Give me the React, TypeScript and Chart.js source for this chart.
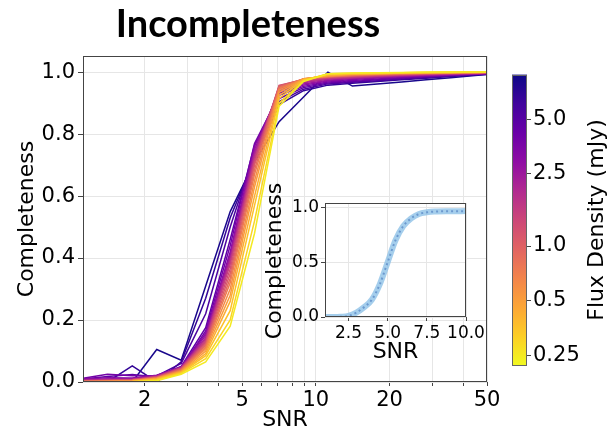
import React, { useEffect, useRef } from 'react';
import { Chart, registerables } from 'chart.js';

Chart.register(...registerables);

// ---------- data ----------
const snrBins = [1.12, 1.41, 1.78, 2.24, 2.82, 3.55, 4.47, 5.62, 7.08, 8.91, 11.2, 14.1, 17.8, 22.4, 28.2, 35.5, 44.7, 56.2];

const fluxDensities = [0.25, 0.30, 0.36, 0.43, 0.52, 0.62, 0.75, 0.90, 1.08, 1.30, 1.56, 1.87, 2.25, 2.70, 3.24, 3.90, 4.67, 5.60, 6.70, 8.10];

const comp025 = [0.000, 0.000, 0.000, 0.004, 0.025, 0.065, 0.18, 0.48, 0.89, 0.970, 0.995, 0.997, 0.998, 0.999, 1.0, 1.0, 1.0, 1.0];
const comp030 = [0.000, 0.000, 0.001, 0.006, 0.028, 0.075, 0.20, 0.52, 0.90, 0.972, 0.995, 0.996, 0.997, 0.998, 0.999, 1.0, 1.0, 1.0];
const comp036 = [0.000, 0.000, 0.002, 0.008, 0.030, 0.085, 0.23, 0.57, 0.915, 0.975, 0.993, 0.995, 0.996, 0.998, 0.999, 0.999, 1.0, 1.0];
const comp043 = [0.000, 0.001, 0.002, 0.010, 0.032, 0.092, 0.26, 0.60, 0.925, 0.977, 0.990, 0.994, 0.995, 0.997, 0.998, 0.999, 1.0, 1.0];
const comp052 = [0.001, 0.002, 0.003, 0.011, 0.034, 0.100, 0.28, 0.63, 0.935, 0.978, 0.988, 0.993, 0.995, 0.997, 0.998, 0.999, 0.999, 1.0];
const comp062 = [0.001, 0.002, 0.004, 0.012, 0.036, 0.107, 0.30, 0.65, 0.942, 0.979, 0.987, 0.992, 0.994, 0.996, 0.997, 0.998, 0.999, 1.0];
const comp075 = [0.002, 0.003, 0.005, 0.013, 0.038, 0.113, 0.32, 0.67, 0.948, 0.979, 0.986, 0.990, 0.993, 0.995, 0.996, 0.998, 0.999, 1.0];
const comp090 = [0.002, 0.004, 0.005, 0.014, 0.040, 0.118, 0.335, 0.685, 0.952, 0.978, 0.985, 0.989, 0.992, 0.994, 0.996, 0.997, 0.998, 1.0];
const comp108 = [0.003, 0.004, 0.006, 0.015, 0.042, 0.123, 0.35, 0.70, 0.956, 0.977, 0.984, 0.988, 0.991, 0.993, 0.995, 0.997, 0.998, 0.999];
const comp130 = [0.003, 0.005, 0.007, 0.016, 0.043, 0.128, 0.365, 0.71, 0.957, 0.975, 0.983, 0.987, 0.990, 0.992, 0.994, 0.996, 0.998, 0.999];
const comp156 = [0.004, 0.006, 0.007, 0.017, 0.045, 0.133, 0.38, 0.72, 0.953, 0.972, 0.981, 0.985, 0.988, 0.991, 0.993, 0.995, 0.997, 0.999];
const comp187 = [0.005, 0.007, 0.008, 0.018, 0.046, 0.138, 0.39, 0.73, 0.948, 0.969, 0.979, 0.983, 0.987, 0.990, 0.992, 0.994, 0.996, 0.998];
const comp225 = [0.006, 0.008, 0.009, 0.019, 0.047, 0.143, 0.40, 0.74, 0.943, 0.966, 0.977, 0.981, 0.985, 0.988, 0.991, 0.993, 0.995, 0.998];
const comp270 = [0.008, 0.010, 0.011, 0.021, 0.048, 0.150, 0.41, 0.75, 0.938, 0.962, 0.974, 0.979, 0.983, 0.987, 0.990, 0.992, 0.995, 0.998];
const comp324 = [0.010, 0.014, 0.013, 0.022, 0.049, 0.157, 0.42, 0.76, 0.932, 0.958, 0.971, 0.976, 0.981, 0.985, 0.988, 0.991, 0.994, 0.997];
const comp390 = [0.012, 0.025, 0.020, 0.020, 0.045, 0.165, 0.44, 0.77, 0.925, 0.954, 0.968, 0.973, 0.978, 0.983, 0.987, 0.990, 0.993, 0.997];
const comp467 = [0.010, 0.018, 0.024, 0.016, 0.050, 0.175, 0.46, 0.765, 0.915, 0.950, 0.965, 0.970, 0.975, 0.980, 0.985, 0.989, 0.993, 0.996];
const comp560 = [0.000, 0.005, 0.010, 0.020, 0.060, 0.22, 0.50, 0.74, 0.905, 0.945, 0.962, 0.967, 0.972, 0.978, 0.983, 0.988, 0.992, 0.996];
const comp670 = [0.000, 0.000, 0.052, 0.000, 0.065, 0.27, 0.53, 0.72, 0.895, 0.940, 0.958, 0.964, 0.970, 0.975, 0.980, 0.986, 0.991, 0.995];
const comp810 = [0.000, 0.000, 0.000, 0.105, 0.070, 0.31, 0.55, 0.71, 0.84, 0.92, 1.0, 0.955, 0.962, 0.968, 0.975, 0.982, 0.989, 0.995];

const completenessSeries = [
  comp025, comp030, comp036, comp043, comp052, comp062, comp075, comp090, comp108, comp130,
  comp156, comp187, comp225, comp270, comp324, comp390, comp467, comp560, comp670, comp810,
];

const xGridTicks = [2, 3, 4, 5, 6, 7, 8, 9, 10, 20, 30, 40, 50];
const xLabeledTicks = [2, 5, 10, 20, 50];
const yTicks = [0, 0.2, 0.4, 0.6, 0.8, 1.0];

const insetSnr = [1, 1.5, 2, 2.5, 3, 3.5, 4, 4.5, 5, 5.5, 6, 6.5, 7, 7.5, 8, 9, 10];
const insetCompleteness = [0, 0, 0.002, 0.01, 0.04, 0.09, 0.16, 0.3, 0.5, 0.7, 0.83, 0.9, 0.94, 0.955, 0.962, 0.965, 0.966];
const insetXTicks = [2.5, 5, 7.5, 10];
const insetYTicks = [0, 0.5, 1];

const colorbarTicks = [0.25, 0.5, 1, 2.5, 5];
const colorbarTickLabels = ['0.25', '0.5', '1.0', '2.5', '5.0'];
const fluxMin = 0.22;
const fluxMax = 8.8;

// ---------- styling helpers ----------
const FONT = "'DejaVu Sans', sans-serif";
const PLASMA = ['#0d0887', '#41049d', '#6a00a8', '#8f0da4', '#b12a90', '#cc4778', '#e16462', '#f2844b', '#fca636', '#fcce25', '#f0f921'];
const GRID = '#e6e6e6';
const SPINE = '#444444';

function hexRgb(h: string) {
  return [parseInt(h.slice(1, 3), 16), parseInt(h.slice(3, 5), 16), parseInt(h.slice(5, 7), 16)];
}
function plasma(t: number) {
  const c = Math.max(0, Math.min(1, t)) * 10;
  const i = Math.min(9, Math.floor(c));
  const f = c - i;
  const a = hexRgb(PLASMA[i]);
  const b = hexRgb(PLASMA[i + 1]);
  const m = a.map((v, k) => Math.round(v + (b[k] - v) * f));
  return `rgb(${m[0]},${m[1]},${m[2]})`;
}
function fluxColor(f: number) {
  const n = (Math.log(f) - Math.log(fluxMin)) / (Math.log(fluxMax) - Math.log(fluxMin));
  return plasma(1 - n);
}

const boxPlugin = {
  id: 'boxPlugin',
  afterDatasetsDraw(chart: any) {
    const { ctx, chartArea: a } = chart;
    ctx.save();
    ctx.strokeStyle = SPINE;
    ctx.lineWidth = 1;
    ctx.strokeRect(Math.round(a.left) + 0.5, Math.round(a.top) + 0.5, Math.round(a.width) - 1, Math.round(a.height) - 1);
    ctx.restore();
  },
};

const whiteAreaPlugin = {
  id: 'whiteArea',
  beforeDraw(chart: any) {
    const { ctx, chartArea: a } = chart;
    ctx.save();
    ctx.fillStyle = '#ffffff';
    ctx.fillRect(a.left, a.top, a.width, a.height);
    ctx.restore();
  },
};

const insetLabelPlugin = {
  id: 'insetYLabel',
  afterDraw(chart: any) {
    const { ctx, chartArea: a } = chart;
    ctx.save();
    ctx.fillStyle = '#000';
    ctx.font = `22px ${FONT}`;
    ctx.textAlign = 'center';
    ctx.textBaseline = 'middle';
    ctx.translate(20, (a.top + a.bottom) / 2 + 1);
    ctx.rotate(-Math.PI / 2);
    ctx.fillText('Completeness', 0, 0);
    ctx.restore();
  },
};

const titlePlugin = {
  id: 'mainTitle',
  afterDraw(chart: any) {
    const { ctx } = chart;
    ctx.save();
    ctx.fillStyle = '#000';
    ctx.font = "bold 38px Lato, 'DejaVu Sans', sans-serif";
    ctx.textAlign = 'center';
    ctx.textBaseline = 'alphabetic';
    ctx.fillText('Incompleteness', 248, 37);
    ctx.restore();
  },
};

const colorbarPlugin = {
  id: 'colorbarFill',
  beforeDatasetsDraw(chart: any) {
    const { ctx, chartArea: a } = chart;
    ctx.save();
    const g = ctx.createLinearGradient(0, a.bottom, 0, a.top);
    for (let k = 0; k <= 10; k++) g.addColorStop(k / 10, PLASMA[10 - k]);
    ctx.fillStyle = g;
    ctx.fillRect(a.left, a.top, a.width, a.height);
    ctx.strokeStyle = '#666';
    ctx.lineWidth = 1;
    ctx.strokeRect(Math.round(a.left) + 0.5, Math.round(a.top) + 0.5, Math.round(a.width) - 1, Math.round(a.height) - 1);
    ctx.restore();
  },
  afterDraw(chart: any) {
    const { ctx, chartArea: a } = chart;
    ctx.save();
    ctx.fillStyle = '#000';
    ctx.font = `22px ${FONT}`;
    ctx.textAlign = 'center';
    ctx.textBaseline = 'middle';
    ctx.translate(97, (a.top + a.bottom) / 2);
    ctx.rotate(-Math.PI / 2);
    ctx.fillText('Flux Density (mJy)', 0, 0);
    ctx.restore();
  },
};

export default function App() {
  const mainRef = useRef<HTMLCanvasElement>(null);
  const insetRef = useRef<HTMLCanvasElement>(null);
  const cbRef = useRef<HTMLCanvasElement>(null);

  useEffect(() => {
    const charts: Chart[] = [];

    // main chart
    charts.push(
      new Chart(mainRef.current as HTMLCanvasElement, {
        type: 'line',
        data: {
          datasets: completenessSeries.map((vals, i) => ({
            label: `${fluxDensities[i]} mJy`,
            data: snrBins.map((x, j) => ({ x, y: vals[j] })),
            borderColor: fluxColor(fluxDensities[i]),
            borderWidth: 1.5,
            pointRadius: 0,
            fill: false,
            tension: 0,
          })),
        },
        options: {
          animation: false,
          responsive: false,
          events: [],
          layout: { padding: { left: 0, right: 123, top: 56, bottom: 0 } },
          plugins: { legend: { display: false }, tooltip: { enabled: false }, title: { display: false } },
          scales: {
            x: {
              type: 'logarithmic',
              min: 1.12,
              max: 50,
              afterBuildTicks: (s: any) => {
                s.ticks = xGridTicks.map((v) => ({ value: v }));
              },
              afterFit: (s: any) => {
                s.height = 54;
              },
              ticks: {
                autoSkip: false,
                maxRotation: 0,
                padding: 2,
                color: '#000',
                font: { family: FONT, size: 21 },
                callback: (v: any) => (xLabeledTicks.includes(Number(v)) ? String(v) : ''),
              },
              grid: { color: GRID, lineWidth: 1, tickLength: 4, tickColor: SPINE },
              border: { display: false },
              title: {
                display: true,
                text: 'SNR',
                color: '#000',
                font: { family: FONT, size: 22 },
                padding: { top: 0, bottom: 3 },
              },
            },
            y: {
              type: 'linear',
              min: 0,
              max: 1.052,
              afterBuildTicks: (s: any) => {
                s.ticks = yTicks.map((v) => ({ value: v }));
              },
              afterFit: (s: any) => {
                s.width = 83;
              },
              ticks: {
                padding: 3,
                color: '#000',
                font: { family: FONT, size: 21 },
                callback: (v: any) => Number(v).toFixed(1),
              },
              grid: { color: GRID, lineWidth: 1, tickLength: 5, tickColor: SPINE },
              border: { display: false },
              title: {
                display: true,
                text: 'Completeness',
                color: '#000',
                font: { family: FONT, size: 22 },
                padding: { top: 14, bottom: 0 },
              },
            },
          },
        },
        plugins: [boxPlugin, titlePlugin],
      } as any)
    );

    // inset chart
    charts.push(
      new Chart(insetRef.current as HTMLCanvasElement, {
        type: 'line',
        data: {
          datasets: [
            {
              label: 'band',
              data: insetSnr.map((x, j) => ({ x, y: insetCompleteness[j] })),
              borderColor: 'rgba(135,190,230,0.75)',
              borderWidth: 6,
              pointRadius: 0,
              fill: false,
              cubicInterpolationMode: 'monotone',
            },
            {
              label: 'fit',
              data: insetSnr.map((x, j) => ({ x, y: insetCompleteness[j] })),
              borderColor: '#1d2f8c',
              borderWidth: 2,
              borderDash: [2, 3],
              pointRadius: 0,
              fill: false,
              cubicInterpolationMode: 'monotone',
            },
          ],
        },
        options: {
          animation: false,
          responsive: false,
          events: [],
          layout: { padding: { left: 0, right: 25, top: 33, bottom: 0 } },
          plugins: { legend: { display: false }, tooltip: { enabled: false } },
          scales: {
            x: {
              type: 'linear',
              min: 1,
              max: 10,
              afterBuildTicks: (s: any) => {
                s.ticks = insetXTicks.map((v) => ({ value: v }));
              },
              afterFit: (s: any) => {
                s.height = 53;
              },
              ticks: {
                autoSkip: false,
                maxRotation: 0,
                padding: 2,
                color: '#000',
                font: { family: FONT, size: 17 },
                callback: (v: any) => Number(v).toFixed(1),
              },
              grid: { color: GRID, tickLength: 4, tickColor: SPINE },
              border: { display: false },
              title: {
                display: true,
                text: 'SNR',
                color: '#000',
                font: { family: FONT, size: 22 },
                padding: { top: 0, bottom: 5 },
              },
            },
            y: {
              type: 'linear',
              min: 0,
              max: 1.04,
              afterBuildTicks: (s: any) => {
                s.ticks = insetYTicks.map((v) => ({ value: v }));
              },
              afterFit: (s: any) => {
                s.width = 70;
              },
              ticks: {
                padding: 2,
                color: '#000',
                font: { family: FONT, size: 17 },
                callback: (v: any) => Number(v).toFixed(1),
              },
              grid: { color: GRID, tickLength: 4, tickColor: SPINE },
              border: { display: false },
              title: { display: false },
            },
          },
        },
        plugins: [whiteAreaPlugin, boxPlugin, insetLabelPlugin],
      } as any)
    );

    // colorbar
    charts.push(
      new Chart(cbRef.current as HTMLCanvasElement, {
        type: 'scatter',
        data: { datasets: [] },
        options: {
          animation: false,
          responsive: false,
          events: [],
          layout: { padding: { left: 12, right: 0, top: 13, bottom: 13 } },
          plugins: { legend: { display: false }, tooltip: { enabled: false } },
          scales: {
            x: { display: false, min: 0, max: 1 },
            y: {
              type: 'logarithmic',
              position: 'right',
              min: fluxMin,
              max: fluxMax,
              afterBuildTicks: (s: any) => {
                s.ticks = colorbarTicks.map((v) => ({ value: v }));
              },
              afterFit: (s: any) => {
                s.width = 83;
              },
              ticks: {
                autoSkip: false,
                padding: 2,
                color: '#000',
                font: { family: FONT, size: 21 },
                callback: (v: any) => {
                  const k = colorbarTicks.indexOf(Number(v));
                  return k >= 0 ? colorbarTickLabels[k] : '';
                },
              },
              grid: { drawOnChartArea: false, tickLength: 4, tickColor: SPINE },
              border: { display: false },
            },
          },
        },
        plugins: [colorbarPlugin],
      } as any)
    );

    return () => charts.forEach((c) => c.destroy());
  }, []);

  return (
    <div style={{ position: 'absolute', left: 0, top: 0, width: 610, height: 436, background: '#fff', overflow: 'hidden' }}>
      <canvas ref={mainRef} width={610} height={436} style={{ position: 'absolute', left: 0, top: 0, width: 610, height: 436 }} />
      <canvas ref={insetRef} width={236} height={200} style={{ position: 'absolute', left: 255, top: 170, width: 236, height: 200 }} />
      <canvas ref={cbRef} width={110} height={320} style={{ position: 'absolute', left: 500, top: 60, width: 110, height: 320 }} />
    </div>
  );
}
